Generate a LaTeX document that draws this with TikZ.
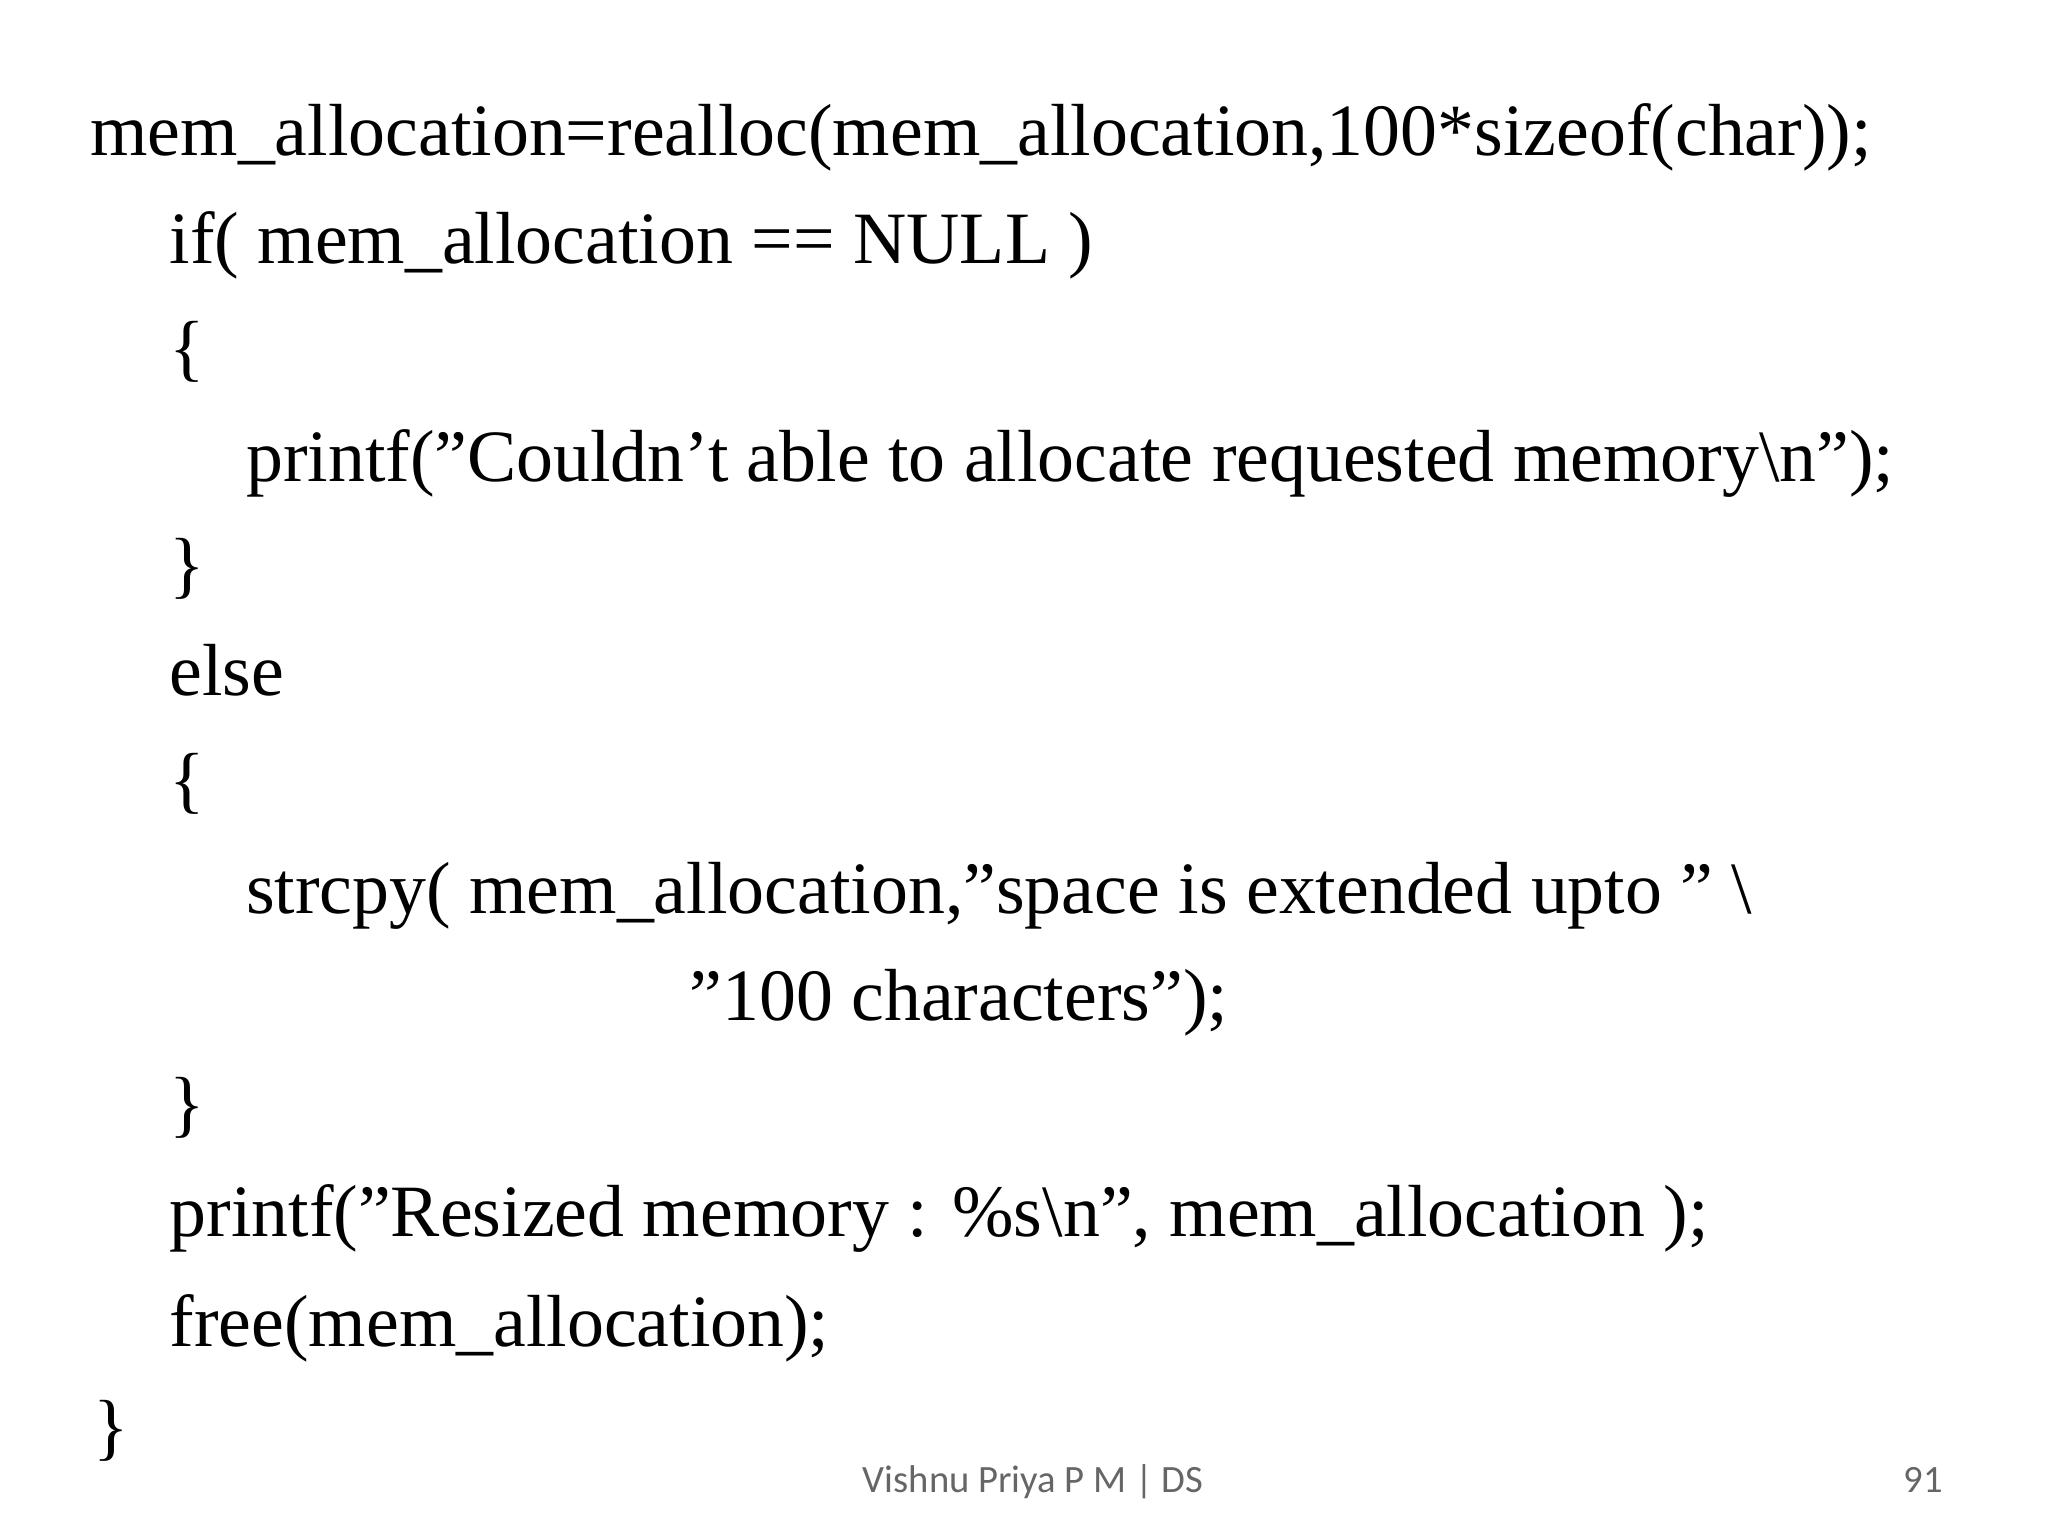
\documentclass[tikz,border=0pt]{standalone}
\usepackage{fontspec}
\setmainfont{Liberation Serif}
\newfontfamily\footfont{Carlito}
\newcommand{\sq}{\char"27\relax}
\newcommand{\dq}{\char"22\relax}
\begin{document}
\begin{tikzpicture}[x=0.013196cm,y=-0.013196cm,
  code/.style={anchor=base west,inner sep=0pt,font=\fontsize{21}{25}\selectfont},
  foot/.style={anchor=base,inner sep=0pt,text=gray!80!black,font=\footfont\fontsize{11}{13}\selectfont}]
\useasboundingbox (0,0) rectangle (1552,1164);
\node[code] (l1) at (68,118) {mem\_allocation=realloc(mem\_allocation,100*sizeof(char));};
\node[code] (l2) at (128,200) {if( mem\_allocation == NULL )};
\node[code] (l3) at (128,282) {\{};
\node[code] (l4) at (186,365) {printf(\dq Couldn\sq t able to allocate requested memory\textbackslash n\dq);};
\node[code] (l5) at (128,447) {\}};
\node[code] (l6) at (128,527) {else};
\node[code] (l7) at (128,610) {\{};
\node[code] (l8) at (186,692) {strcpy( mem\_allocation,\dq space is extended upto \dq\ \textbackslash};
\node[code] (l9) at (522,773) {\dq 100 characters\dq);};
\node[code] (l10) at (128,855) {\}};
\node[code] (l11) at (128,937) {printf(\dq Resized memory : \%s\textbackslash n\dq, mem\_allocation );};
\node[code] (l12) at (128,1020) {free(mem\_allocation);};
\node[code] (l13) at (70,1100) {\}};
\node[foot] (f1) at (783,1131) {Vishnu Priya P M | DS};
\node[foot,anchor=base east] (f2) at (1473,1131) {91};
\end{tikzpicture}
\end{document}
